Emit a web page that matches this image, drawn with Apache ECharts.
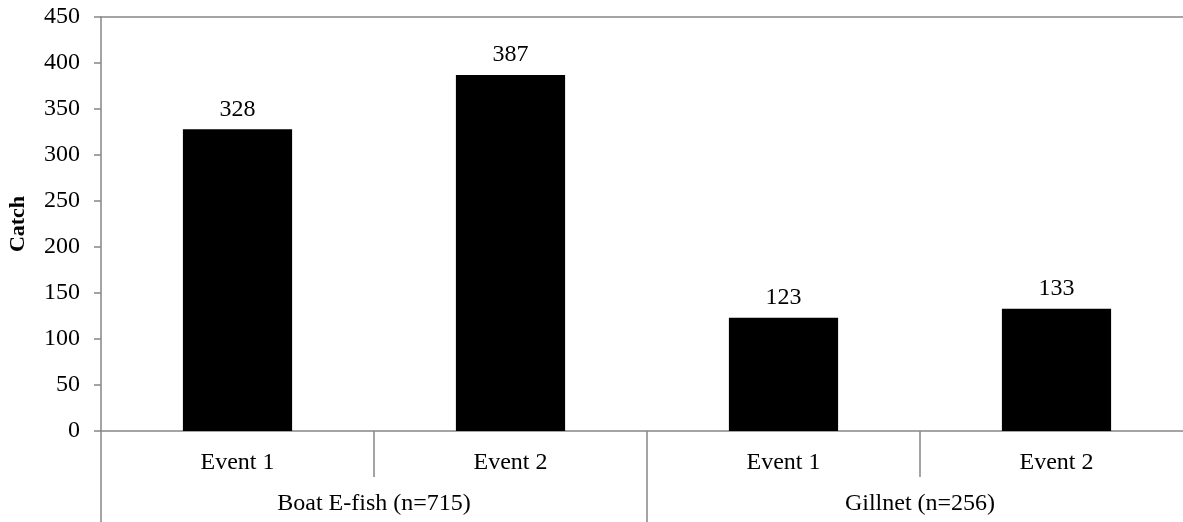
<!DOCTYPE html>
<html><head><meta charset="utf-8">
<script src="https://cdn.jsdelivr.net/npm/echarts@6/dist/echarts.min.js"></script>
<style>html,body{margin:0;padding:0;background:#fff;overflow:hidden}#c{width:1193px;height:522px}</style>
</head><body><div id="c"></div>
<script>
var events = ['Event 1', 'Event 2', 'Event 1', 'Event 2'];
var groups = ['Boat E-fish (n=715)', 'Gillnet (n=256)'];
var catchValues = [328, 387, 123, 133];
var yTicks = {min: 0, max: 450, interval: 50};

var font = '"Liberation Serif", "Times New Roman", serif';
var axisGray = '#868686';
var chart = echarts.init(document.getElementById('c'));
chart.setOption({
  animation: false,
  grid: {left: 101, top: 17, right: 0, bottom: 91, containLabel: false, outerBoundsMode: 'none'},
  xAxis: [
    {type: 'category', data: events, position: 'bottom',
     axisLine: {lineStyle: {color: axisGray, width: 1.5}},
     axisTick: {show: true, interval: 0, length: 46, lineStyle: {color: axisGray, width: 1.5}},
     axisLabel: {color: '#000', fontFamily: font, fontSize: 24, margin: 20, interval: 0}},
    {type: 'category', data: groups, position: 'bottom', gridIndex: 0,
     axisLine: {show: false},
     axisTick: {show: true, interval: 0, length: 91, lineStyle: {color: axisGray, width: 1.5}},
     axisLabel: {color: '#000', fontFamily: font, fontSize: 24, margin: 61, interval: 0}},
    {type: 'category', data: events, position: 'top',
     axisLine: {show: true, lineStyle: {color: axisGray, width: 1.5}},
     axisTick: {show: false}, axisLabel: {show: false}}
  ],
  yAxis: {type: 'value', min: yTicks.min, max: yTicks.max, interval: yTicks.interval,
    name: 'Catch', nameLocation: 'middle', nameGap: 72, nameRotate: 90,
    nameTextStyle: {color: '#000', fontFamily: font, fontSize: 22, fontWeight: 'bold'},
    axisLine: {show: true, lineStyle: {color: axisGray, width: 1.5}},
    axisTick: {show: true, length: 7, lineStyle: {color: axisGray, width: 1.5}},
    axisLabel: {color: '#000', fontFamily: font, fontSize: 24, margin: 21},
    splitLine: {show: false}},
  series: [{type: 'bar', data: catchValues, xAxisIndex: 0, barWidth: '40%',
    itemStyle: {color: '#000'},
    label: {show: true, position: 'top', distance: 8, color: '#000', fontFamily: font, fontSize: 24}}]
});
</script></body></html>
